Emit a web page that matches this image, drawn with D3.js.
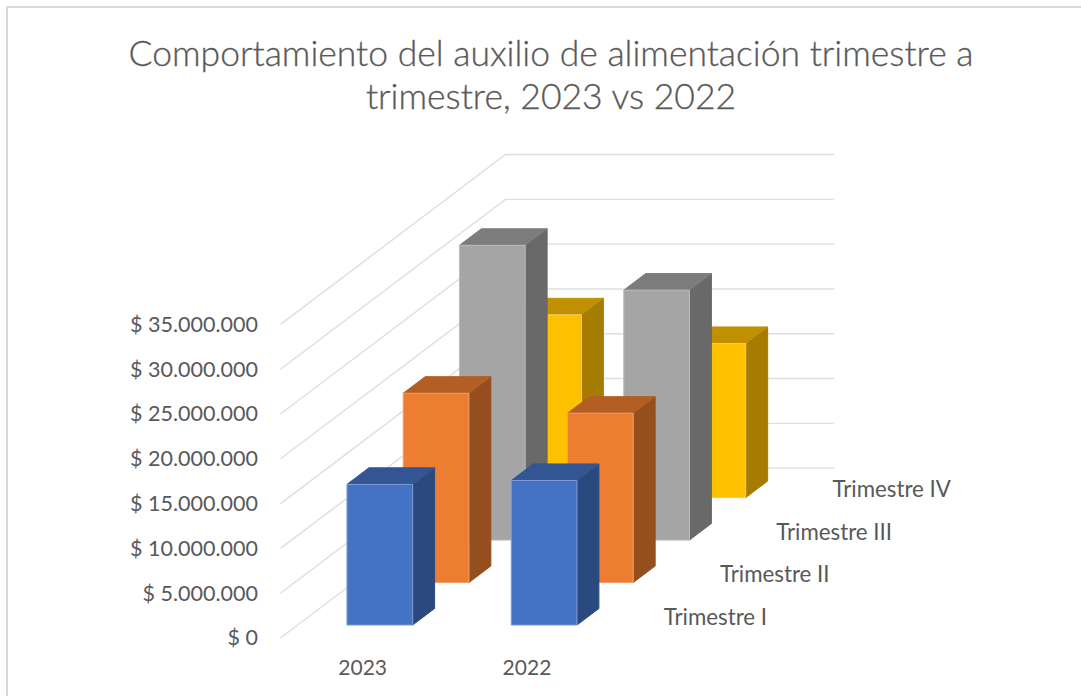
<!DOCTYPE html>
<html><head><meta charset="utf-8">
<script src="https://cdn.jsdelivr.net/npm/d3@7"></script>
<style>html,body{margin:0;padding:0;background:#fff}svg{display:block}text{font-family:"Lato",sans-serif;fill:#595959}</style>
</head><body><div id="c"></div>
<script>
const titleLines = ["Comportamiento del auxilio de alimentación trimestre a", "trimestre, 2023 vs 2022"];
const years = ["2023", "2022"];
const quarters = ["Trimestre I", "Trimestre II", "Trimestre III", "Trimestre IV"];
const valuesI = [15700000, 16130000];
const valuesII = [21130000, 18900000];
const valuesIII = [32900000, 27900000];
const valuesIV = [20400000, 17200000];
const tickValues = [0, 5000000, 10000000, 15000000, 20000000, 25000000, 30000000, 35000000];
const seriesValues = [valuesI, valuesII, valuesIII, valuesIV];
const faceColors = [
  {front:"#4472c4", top:"#335593", side:"#2a4a7f", edge:"#7f9fd8"},
  {front:"#ed7d31", top:"#b25e25", side:"#954f1e", edge:"#f0a070"},
  {front:"#a5a5a5", top:"#7c7c7c", side:"#696969", edge:"#bdbdbd"},
  {front:"#ffc000", top:"#bf9000", side:"#a67c00", edge:"#e8cf80"}
];
const W = 1081, H = 696, slope = 0.755;
const svg = d3.select("#c").append("svg").attr("width", W).attr("height", H);

svg.append("path").attr("d", `M7 ${H}V7H${W}`).attr("fill","none").attr("stroke","#d9d9d9").attr("stroke-width",2);

svg.append("g").selectAll("text").data(titleLines).join("text")
  .attr("x", 551).attr("y", (d,i)=>66+i*43).attr("text-anchor","middle")
  .attr("font-size", 35.5).attr("font-weight",300)
  .attr("stroke","#595959").attr("stroke-width",0.3).text(d=>d);

const x = d3.scaleBand().domain(years).range([280.5, 609.1]).paddingInner(0.6).paddingOuter(0.3);
const z = d3.scaleBand().domain(quarters).range([0, 225]).paddingInner(0.61).paddingOuter(0.305);
const y = d3.scaleLinear().domain([0, 35000000]).range([638, 324.4]);
const P = (xv, val, d) => [xv + d, y(val) - d*slope];
const zMax = z.range()[1], xL = x.range()[0], xR = x.range()[1];

const grid = svg.append("g").attr("fill","none").attr("stroke","#dedede").attr("stroke-width",1.4);
tickValues.forEach(t=>{
  const pts = [P(xL,t,0), P(xL,t,zMax), P(xR,t,zMax)];
  grid.append("path").attr("d", d3.line()(pts));
});

const fmt = v => "$ " + d3.format(",")(v).replace(/,/g,".");
const yAxis = d3.axisLeft(y).tickValues(tickValues).tickFormat(fmt).tickSize(0).tickPadding(0);
const yg = svg.append("g").attr("transform","translate(258,0)").call(yAxis);
yg.select(".domain").remove();
yg.selectAll("text").attr("font-size",21.5).style("font-family",'"Lato",sans-serif');

const xAxis = d3.axisBottom(x).tickSize(0).tickPadding(0);
const xg = svg.append("g").attr("transform","translate(0,660)").call(xAxis);
xg.select(".domain").remove();
xg.selectAll("text").attr("font-size",21).style("font-family",'"Lato",sans-serif');

svg.append("g").selectAll("text").data(quarters).join("text")
  .attr("x", q=>xR + z(q)+z.bandwidth()/2 + 26.5)
  .attr("y", q=>y(0) - (z(q)+z.bandwidth()/2)*slope)
  .attr("dy","0.35em").attr("font-size",22.3).text(q=>q);

const bars = svg.append("g");
const order = d3.range(quarters.length).reverse();
order.forEach(si=>{
  const q = quarters[si], c = faceColors[si];
  const d0 = z(q), d1 = d0 + z.bandwidth();
  d3.range(years.length).reverse().forEach(yi=>{
    const v = seriesValues[si][yi], x0 = x(years[yi]), x1 = x0 + x.bandwidth();
    const g = bars.append("g").attr("stroke-width",1).attr("stroke-linejoin","round");
    const poly = (pts,fill) => g.append("polygon").attr("points",pts.map(p=>p.join(",")).join(" ")).attr("fill",fill).attr("stroke",fill);
    poly([P(x1,0,d0),P(x1,0,d1),P(x1,v,d1),P(x1,v,d0)], c.side);
    poly([P(x0,v,d0),P(x1,v,d0),P(x1,v,d1),P(x0,v,d1)], c.top);
    poly([P(x0,0,d0),P(x1,0,d0),P(x1,v,d0),P(x0,v,d0)], c.front).attr("stroke",c.edge);
  });
});
</script></body></html>
